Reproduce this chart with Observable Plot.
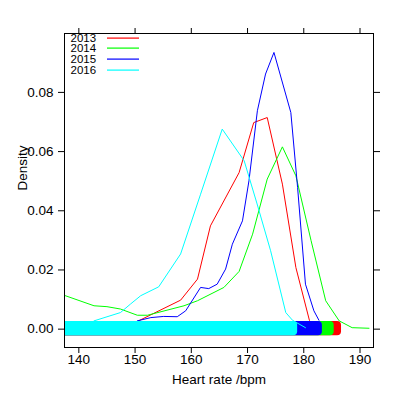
<!DOCTYPE html>
<html><head><meta charset="utf-8">
<script src="https://cdn.jsdelivr.net/npm/d3@7"></script>
<script src="https://cdn.jsdelivr.net/npm/@observablehq/plot@0.6"></script>
<style>body{margin:0;background:#fff} svg{font-family:"Liberation Sans",Arial,sans-serif}</style>
</head><body><div id="chart"></div>
<script>
const years = ["2013", "2014", "2015", "2016"];
const colors = ["#FF0000", "#00FF00", "#0000FF", "#00FFFF"];

const hr2013 = [149.6, 150.4, 158.1, 161.1, 163.4, 168.5, 171.1, 173.5, 176.2, 178.6, 181.0, 181.6];
const d2013  = [0.0015, 0.0026, 0.0098, 0.0169, 0.0349, 0.0529, 0.0698, 0.0715, 0.0490, 0.0208, 0.0030, 0.0010];

const hr2014 = [137.0, 142.7, 145.0, 147.4, 150.4, 152.2, 158.7, 161.1, 165.8, 168.5, 170.9, 173.5, 176.2, 178.6, 181.3, 183.9, 186.3, 188.6, 191.6];
const d2014  = [0.0117, 0.0079, 0.0076, 0.0068, 0.0047, 0.0047, 0.0079, 0.0096, 0.0141, 0.0195, 0.0321, 0.0507, 0.0616, 0.0518, 0.0299, 0.0096, 0.0028, 0.0005, 0.0003];

const hr2015 = [150.4, 152.8, 155.1, 157.5, 159.0, 161.65, 163.1, 164.6, 166.1, 167.3, 169.1, 170.25, 171.75, 173.2, 174.7, 177.7, 178.9, 180.3, 181.8, 182.7];
const d2015  = [0.0028, 0.0039, 0.0043, 0.0042, 0.0062, 0.0141, 0.0137, 0.0152, 0.0203, 0.0287, 0.0366, 0.0501, 0.0738, 0.0862, 0.0935, 0.0732, 0.0479, 0.0152, 0.0062, 0.0030];

const hr2016 = [142.7, 147.4, 149.2, 151.0, 154.2, 158.1, 161.65, 165.5, 169.4, 171.7, 174.1, 176.8, 178.0, 180.3];
const d2016  = [0.0028, 0.0056, 0.0085, 0.0113, 0.0143, 0.0254, 0.0456, 0.0676, 0.0569, 0.0423, 0.0265, 0.0056, 0.0030, 0.0005];

// range of the raw observations (plotted as jittered points along y = 0)
const rugMin = [130, 130, 130, 130];
const rugMax = [186.0, 184.7, 182.6, 178.2];

const xTicks = [140, 150, 160, 170, 180, 190];
const yTicks = [0, 0.02, 0.04, 0.06, 0.08];
const xLabel = "Heart rate /bpm";
const yLabel = "Density";

const curves = [[hr2013, d2013], [hr2014, d2014], [hr2015, d2015], [hr2016, d2016]];
const lineData = years.flatMap((yr, i) => curves[i][0].map((x, j) => ({year: yr, hr: x, density: curves[i][1][j]})));
const rugData = years.map((yr, i) => ({year: yr, lo: rugMin[i], hi: rugMax[i]}));

const groupMarks = years.flatMap(yr => [
  Plot.line(lineData.filter(d => d.year === yr), {x: "hr", y: "density", stroke: "year", strokeWidth: 1, clip: true}),
  Plot.rect(rugData.filter(d => d.year === yr), {x1: "lo", x2: "hi", y1: -0.0009, y2: 0.0012, fill: "year", stroke: "year", strokeWidth: 8, strokeLinejoin: "round", clip: true})
]);

const fmt = d3.format(".2f");
const svg = Plot.plot({
  width: 400, height: 400,
  marginLeft: 64, marginRight: 27, marginTop: 33, marginBottom: 53,
  style: {fontFamily: "Liberation Sans, Arial, sans-serif", fontSize: "13px", background: "#fff"},
  x: {domain: [137.45, 192.4]},
  y: {domain: [-0.0062, 0.0999]},
  color: {domain: years, range: colors},
  marks: [
    ...groupMarks,
    Plot.frame({stroke: "black"}),
    Plot.axisX({ticks: xTicks, tickSize: 6, tickFormat: () => "", label: null}),
    Plot.axisX({anchor: "top", ticks: xTicks, tickSize: 6, tickFormat: () => "", label: null}),
    Plot.axisY({ticks: yTicks, tickSize: 6, tickFormat: () => "", label: null}),
    Plot.axisY({anchor: "right", ticks: yTicks, tickSize: 6, tickFormat: () => "", label: null}),
    Plot.text(xTicks, {x: d => d, text: d => String(d), frameAnchor: "bottom", dy: 16, fontSize: 13.5, fill: "black"}),
    Plot.text(yTicks, {y: d => d, text: d => fmt(d), frameAnchor: "left", dx: -11, textAnchor: "end", fontSize: 13.5, fill: "black"}),
    Plot.text([xLabel], {text: d => d, frameAnchor: "bottom", dy: 36, fontSize: 13.5, fill: "black"}),
    Plot.text([yLabel], {text: d => d, frameAnchor: "left", dx: -42, rotate: -90, fontSize: 13.5, fill: "black"})
  ]
});

// lattice-style key in the top-left corner of the panel
const key = d3.select(svg).append("g").attr("text-anchor", "start");
years.forEach((yr, i) => {
  const cy = 37.5 + i * 10.9;
  key.append("text").attr("x", 70.5).attr("y", cy).attr("dy", "0.35em")
    .style("font-size", "11.5px").style("fill", "black").text(yr);
  key.append("rect").attr("x", 107).attr("width", 32).attr("y", Math.round(cy) - 0.5).attr("height", 1.2)
    .style("fill", colors[i]).style("stroke", "none");
});

document.getElementById("chart").appendChild(svg);
</script>
</body></html>
